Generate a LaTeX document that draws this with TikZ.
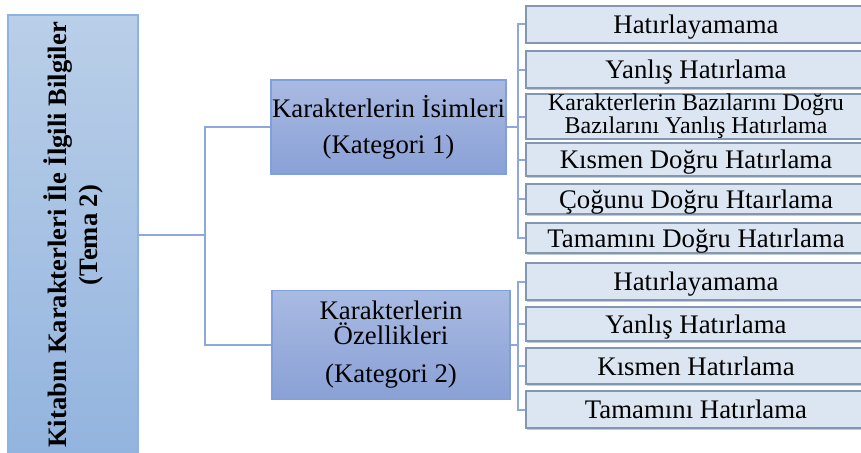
\documentclass[tikz,border=0pt]{standalone}
\usepackage{fontspec}
\setmainfont{Liberation Serif}
\usetikzlibrary{shadows}
\definecolor{linkblue}{HTML}{8CA8DC}
\definecolor{mainedge}{HTML}{8DB3E2}
\definecolor{mainlight}{HTML}{BACFE8}
\definecolor{maindark}{HTML}{93B4DF}
\definecolor{katedge}{HTML}{7F9FDD}
\definecolor{kattop}{HTML}{A9BAE2}
\definecolor{katbottom}{HTML}{8AA1D6}
\definecolor{kodedge}{HTML}{8497B0}
\definecolor{kodfill}{HTML}{DCE6F2}
\begin{document}
\begin{tikzpicture}[x=1pt, y=-1pt,
  link/.style={draw=linkblue, line width=2pt},
  temabox/.style={draw=mainedge, line width=1.5pt, top color=mainlight, bottom color=maindark,
    rotate=90, minimum width=440pt, minimum height=130pt, inner sep=0pt, align=center,
    font=\fontsize{26.6}{31}\selectfont\bfseries},
  katbox/.style={draw=katedge, line width=1.5pt, top color=kattop, bottom color=katbottom,
    inner sep=0pt, align=center, font=\fontsize{26.8}{36}\selectfont},
  kodbox/.style={draw=kodedge, line width=2pt, fill=kodfill, minimum width=340pt, inner sep=0pt,
    align=center, font=\fontsize{26.8}{28}\selectfont, text height=20pt, text depth=2pt,
    drop shadow={shadow xshift=1pt, shadow yshift=-1.5pt, fill=kodedge, opacity=0.5}}]
  \useasboundingbox (0,0) rectangle (861,452);

  \node[temabox] (tema) at (73,235) {Kitabın Karakterleri İle İlgili Bilgiler\\(Tema 2)};

  \node[katbox, minimum width=235pt, minimum height=94pt] (kat1) at (388.5,127) {Karakterlerin İsimleri\\(Kategori 1)};
  \node[katbox, minimum width=238pt, minimum height=109pt, font=\fontsize{26.8}{25}\selectfont] (kat2) at (391,345) {Karakterlerin\\Özellikleri\\[13pt](Kategori 2)};

  \node[kodbox, minimum height=37pt] (a1) at (696,24.5) {Hatırlayamama};
  \node[kodbox, minimum height=37pt] (a2) at (696,69.5) {Yanlış Hatırlama};
  \node[kodbox, minimum height=41pt, font=\fontsize{24}{20}\selectfont, text height=, text depth=] (a3) at (696,116.5) {Karakterlerin Bazılarını Doğru\\Bazılarını Yanlış Hatırlama};
  \node[kodbox, minimum height=33pt] (a4) at (696,159.5) {Kısmen Doğru Hatırlama};
  \node[kodbox, minimum height=30pt] (a5) at (696,199) {Çoğunu Doğru Htaırlama};
  \node[kodbox, minimum height=30pt] (a6) at (696,238) {Tamamını Doğru Hatırlama};

  \node[kodbox, minimum height=37pt] (b1) at (696,281.5) {Hatırlayamama};
  \node[kodbox, minimum height=34pt] (b2) at (696,324) {Yanlış Hatırlama};
  \node[kodbox, minimum height=36pt] (b3) at (696,366) {Kısmen Hatırlama};
  \node[kodbox, minimum height=37pt] (b4) at (696,409.5) {Tamamını Hatırlama};

  \coordinate (split) at (205,235);
  \coordinate (fork1) at (518,127);
  \coordinate (fork2) at (518,345);

  \draw[link] (tema.south) -- (split);
  \draw[link] (split) |- (kat1.west);
  \draw[link] (split) |- (kat2.west);
  \draw[link] (kat1.east) -- (fork1);
  \draw[link] (kat2.east) -- (fork2);
  \foreach \k in {a1,a2,a3,a4,a5,a6}
    \draw[link] (fork1) |- (\k.west);
  \foreach \k in {b1,b2,b3,b4}
    \draw[link] (fork2) |- (\k.west);
\end{tikzpicture}
\end{document}
